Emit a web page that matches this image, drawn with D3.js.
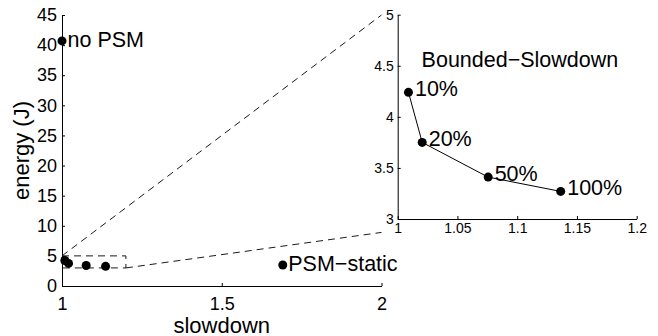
<!DOCTYPE html>
<html>
<head>
<meta charset="utf-8">
<script src="https://cdn.jsdelivr.net/npm/d3@7"></script>
<style>
  html, body { margin: 0; padding: 0; background: #fff; }
  svg { display: block; font-family: "Liberation Sans", Arial, Helvetica, sans-serif; }
</style>
</head>
<body>
<svg id="chart"></svg>
<script>
// bounded-slowdown runs (threshold level -> slowdown, energy)
const levels = ["10%", "20%", "50%", "100%"];
const boundedSlowdown = [1.009, 1.0205, 1.0757, 1.1364];
const boundedEnergy = [4.24, 3.75, 3.41, 3.27];

// reference policies
const refNames = ["no PSM", "PSM\u2212static"];
const refSlowdown = [1.0, 1.691];
const refEnergy = [40.7, 3.49];

// axis ticks
const mainXTicks = [1, 1.5, 2];
const mainYTicks = [0, 5, 10, 15, 20, 25, 30, 35, 40, 45];
const insetXTicks = [1, 1.05, 1.1, 1.15, 1.2];
const insetYTicks = [3, 3.5, 4, 4.5, 5];

// zoom box (main coords) and the two connector lines to the inset
const zoomBox = [[1, 3], [1.2, 5]];
const connectors = [
  [[1, 5], [2, 45]],
  [[1.2, 3], [2, 8.9]]
];
const insetTitle = "Bounded\u2212Slowdown";
const insetTitlePos = [1.02, 4.49];

const width = 658, height = 336;
const svg = d3.select("#chart").attr("width", width).attr("height", height);

const x = d3.scaleLinear().domain([1, 2]).range([62, 381.5]);
const y = d3.scaleLinear().domain([0, 45]).range([286, 15]);
const xi = d3.scaleLinear().domain([1, 1.2]).range([397.7, 636.7]);
const yi = d3.scaleLinear().domain([3, 5]).range([219, 14.7]);

const dash = "7,5";

// dashed zoom box
svg.append("rect")
  .attr("x", x(zoomBox[0][0]))
  .attr("y", y(zoomBox[1][1]))
  .attr("width", x(zoomBox[1][0]) - x(zoomBox[0][0]))
  .attr("height", y(zoomBox[0][1]) - y(zoomBox[1][1]))
  .attr("fill", "none")
  .attr("stroke", "#000")
  .attr("stroke-width", 0.9)
  .attr("stroke-dasharray", dash);

svg.append("g")
  .selectAll("line")
  .data(connectors)
  .join("line")
  .attr("x1", d => x(d[0][0]))
  .attr("y1", d => y(d[0][1]))
  .attr("x2", d => x(d[1][0]))
  .attr("y2", d => y(d[1][1]))
  .attr("stroke", "#000")
  .attr("stroke-width", 0.9)
  .attr("stroke-dasharray", dash);

// axes, matlab style: inward ticks, no box
function styleAxis(g, fs) {
  g.select(".domain").attr("stroke", "#000").attr("stroke-width", 1);
  g.selectAll(".tick line").attr("stroke", "#000");
  g.selectAll(".tick text").attr("fill", "#000").attr("font-size", fs);
  g.attr("font-family", null);
}

svg.append("g")
  .attr("transform", `translate(0,${y(0)})`)
  .call(d3.axisBottom(x).tickValues(mainXTicks).tickFormat(d => d)
    .tickSizeInner(-3).tickSizeOuter(0).tickPadding(11))
  .call(g => styleAxis(g, 18));

svg.append("g")
  .attr("transform", `translate(${x(1)},0)`)
  .call(d3.axisLeft(y).tickValues(mainYTicks).tickFormat(d => d)
    .tickSizeInner(-3).tickSizeOuter(0).tickPadding(5))
  .call(g => styleAxis(g, 18));

svg.append("g")
  .attr("transform", `translate(0,${yi(3)})`)
  .call(d3.axisBottom(xi).tickValues(insetXTicks).tickFormat(d => d)
    .tickSizeInner(-3).tickSizeOuter(0).tickPadding(4))
  .call(g => styleAxis(g, 14));

svg.append("g")
  .attr("transform", `translate(${xi(1)},0)`)
  .call(d3.axisLeft(yi).tickValues(insetYTicks).tickFormat(d => d)
    .tickSizeInner(-3).tickSizeOuter(0).tickPadding(4))
  .call(g => styleAxis(g, 14));

// axis titles
svg.append("text")
  .attr("x", (x(1) + x(2)) / 2)
  .attr("y", 332.5)
  .attr("text-anchor", "middle")
  .attr("font-size", 22)
  .text("slowdown");

svg.append("text")
  .attr("transform", `translate(29,${(y(0) + y(45)) / 2}) rotate(-90)`)
  .attr("text-anchor", "middle")
  .attr("font-size", 22)
  .text("energy (J)");

// main plot points
const mainPts = boundedSlowdown.map((s, i) => ({ s, e: boundedEnergy[i] }))
  .concat(refSlowdown.map((s, i) => ({ s, e: refEnergy[i] })));

svg.append("g")
  .selectAll("circle")
  .data(mainPts)
  .join("circle")
  .attr("cx", d => x(d.s))
  .attr("cy", d => y(d.e))
  .attr("r", 4.5)
  .attr("fill", "#000");

svg.append("g")
  .selectAll("text")
  .data(refNames)
  .join("text")
  .attr("x", (d, i) => x(refSlowdown[i]) + 5.5)
  .attr("y", (d, i) => y(refEnergy[i]) + 6)
  .attr("font-size", 21.5)
  .text(d => d);

// inset
const line = d3.line().x(d => xi(d[0])).y(d => yi(d[1]));
const insetPts = boundedSlowdown.map((s, i) => [s, boundedEnergy[i]]);

svg.append("path")
  .datum(insetPts)
  .attr("d", line)
  .attr("fill", "none")
  .attr("stroke", "#000")
  .attr("stroke-width", 1);

svg.append("g")
  .selectAll("circle")
  .data(insetPts)
  .join("circle")
  .attr("cx", d => xi(d[0]))
  .attr("cy", d => yi(d[1]))
  .attr("r", 4.5)
  .attr("fill", "#000");

svg.append("g")
  .selectAll("text")
  .data(levels)
  .join("text")
  .attr("x", (d, i) => xi(boundedSlowdown[i]) + 6.5)
  .attr("y", (d, i) => yi(boundedEnergy[i]) + 4)
  .attr("font-size", 21.5)
  .text(d => d);

svg.append("text")
  .attr("x", xi(insetTitlePos[0]))
  .attr("y", yi(insetTitlePos[1]))
  .attr("font-size", 21.5)
  .text(insetTitle);
</script>
</body>
</html>
